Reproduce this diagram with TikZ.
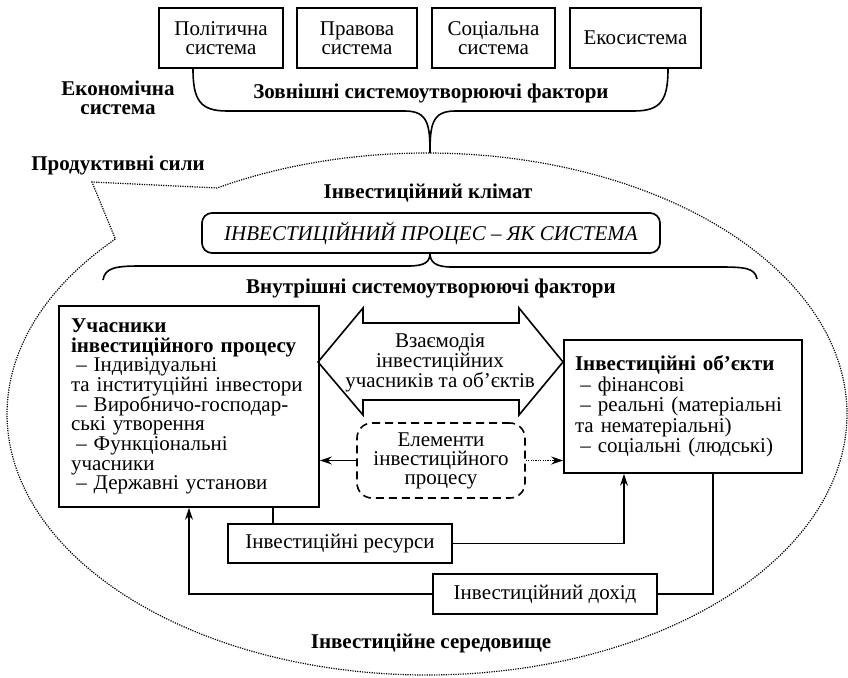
\documentclass[tikz,border=0pt]{standalone}
\usepackage{fontspec}
\setmainfont{Liberation Serif}
\usetikzlibrary{arrows.meta,calc}
\begin{document}
\begin{tikzpicture}[x=1pt,y=-1pt,
 every node/.style={font=\fontsize{21}{19.7}\selectfont, inner sep=0pt},
 box/.style={draw, line width=1.7pt, align=center},
 topbox/.style={box, minimum height=60, font=\fontsize{21}{19}\selectfont},
 lbl/.style={font=\fontsize{21}{19}\selectfont\bfseries, align=center},
 arr/.style={line width=1.5pt, -{Stealth[length=12pt,width=8pt]}},
 ln/.style={line width=1.5pt},
 brace/.style={line width=1.6pt},
 dots/.style={line width=1.2pt, dash pattern=on 1.2pt off 1.2pt}]
\useasboundingbox (0,0) rectangle (848,677);

% outer dotted contour
\draw[dots] plot[domain=137.9:480, samples=240, smooth] ({427+420*cos(\x)},{414-261*sin(\x)}) -- (92,182) -- cycle;

% top boxes
\node[topbox, minimum width=124] (pol) at (221,38) {Політична\\система};
\node[topbox, minimum width=120] (prav) at (357,38) {Правова\\система};
\node[topbox, minimum width=123] (soc) at (493.5,38) {Соціальна\\система};
\node[topbox, minimum width=131] (eko) at (635.5,38) {Екосистема};

% top brace
\coordinate (tip1) at (430,153);
\draw[brace] (pol.south -| 193,0) .. controls (193,100) and (200,111) .. (227,111) -- (405,111) .. controls (428,111) and (430,125) .. (tip1);
\draw[brace] (eko.south -| 668,0) .. controls (668,100) and (661,111) .. (634,111) -- (455,111) .. controls (432,111) and (430,125) .. (tip1);

% labels
\node[lbl] (econ) at (118,98) {Економічна\\система};
\node[lbl] (zovn) at (431,93) {Зовнішні системоутворюючі фактори};
\node[lbl] (prod) at (118,165) {Продуктивні сили};
\node[lbl] (klim) at (428,193) {Інвестиційний клімат};

% process box
\node[box, rounded corners=10pt, minimum width=458, minimum height=40, font=\fontsize{21}{19.7}\selectfont\itshape] (proc) at (431,233) {ІНВЕСТИЦІЙНИЙ ПРОЦЕС – ЯК СИСТЕМА};

% lower brace
\coordinate (tip2) at (430,253);
\draw[brace] (103,280) .. controls (105,268) and (115,266) .. (140,266) -- (408,266) .. controls (425,266) and (430,262) .. (tip2);
\draw[brace] (757,279) .. controls (755,268) and (745,267) .. (720,267) -- (452,267) .. controls (435,267) and (430,262) .. (tip2);

\node[lbl] (vnutr) at (431,288) {Внутрішні системоутворюючі фактори};

% participants box
\node[box, minimum width=260, minimum height=201, text width=236, align=left] (part) at (189,406.5)
{\textbf{Учасники}\\
\textbf{інвестиційного процесу}\\
\hspace*{0.25em}– Індивідуальні\\
та інституційні інвестори\\
\hspace*{0.25em}– Виробничо-господар-\\
ські утворення\\
\hspace*{0.25em}– Функціональні\\
учасники\\
\hspace*{0.25em}– Державні установи};

% objects box
\node[box, minimum width=238, minimum height=133, text width=216, align=left, font=\fontsize{21}{20.5}\selectfont] (obj) at (683,406.5)
{\textbf{Інвестиційні об’єкти}\\
\hspace*{0.25em}– фінансові\\
\hspace*{0.25em}– реальні (матеріальні\\
та нематеріальні)\\
\hspace*{0.25em}– соціальні (людські)};

% double arrow
\draw[line width=1.6pt, line join=miter] (318,362) -- (363,308) -- (363,323) -- (519,323) -- (519,308) -- (563,362) -- (519,415) -- (519,400) -- (363,400) -- (363,415) -- cycle;
\node[align=center] (vzaem) at (440,363) {Взаємодія\\інвестиційних\\учасників та об’єктів};

% elements box
\node[box, line width=1.6pt, rounded corners=15pt, dash pattern=on 8pt off 5pt, minimum width=168, minimum height=75, font=\fontsize{21}{19}\selectfont] (elem) at (441,460.5) {Елементи\\інвестиційного\\процесу};

\draw[arr] (elem.west) -- (elem.west -| part.east);
\draw[line width=1.2pt, dash pattern=on 1.2pt off 1.2pt] (elem.east) -- ($(elem.east -| obj.west)+(-10,0)$);
\draw[line width=1.4pt, {-Stealth[length=12pt,width=8pt]}] ($(elem.east -| obj.west)+(-11,0)$) -- (elem.east -| obj.west);

% resources and income
\node[box, minimum width=224, minimum height=39] (res) at (340,543.5) {Інвестиційні ресурси};
\node[box, minimum width=224, minimum height=40] (inc) at (545,594) {Інвестиційний дохід};

\coordinate (rx) at (273,0);
\draw[ln] (part.south -| rx) -- (res.north -| rx);
\draw[arr] (res.east) -| ([xshift=-59pt]obj.south);
\draw[ln] ([xshift=30pt]obj.south) |- (inc.east);
\draw[arr] (inc.west) -| (part.south);

\node[lbl] (sered) at (431,643) {Інвестиційне середовище};
\end{tikzpicture}
\end{document}
